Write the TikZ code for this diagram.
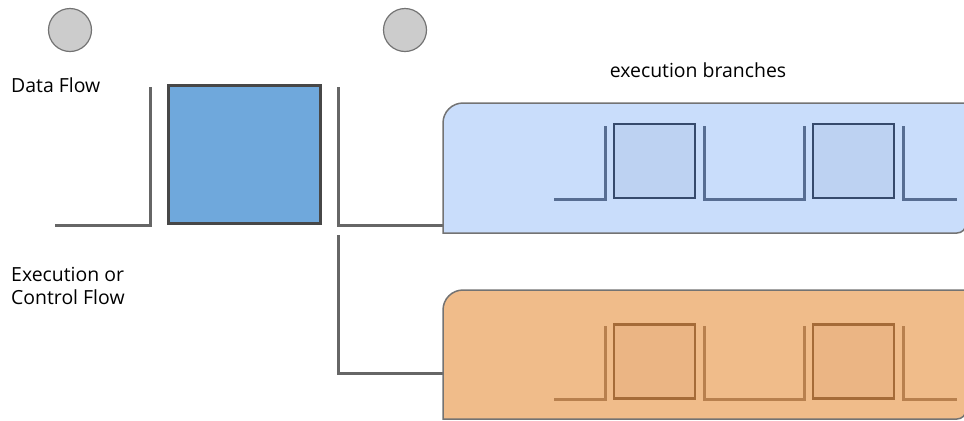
\documentclass[tikz,border=0pt]{standalone}
\usepackage{fontspec}
\setmainfont{Open Sans}
\usetikzlibrary{positioning}

\definecolor{opblue}{HTML}{6FA8DC}
\definecolor{upfill}{HTML}{C9DDFB}
\definecolor{upbox}{HTML}{BDD2F2}
\definecolor{upline}{HTML}{576D92}
\definecolor{upedge}{HTML}{364A6C}
\definecolor{lofill}{HTML}{F0BC8A}
\definecolor{lobox}{HTML}{EBB584}
\definecolor{loline}{HTML}{B8804E}
\definecolor{loedge}{HTML}{A56B38}

\begin{document}
\begin{tikzpicture} [
    x = 1bp, y = -1bp,
    lbl/.style = {font=\fontsize{19.5}{24}\selectfont, align=left, inner sep=0pt},
    token/.style = {circle, draw=black!55, fill=black!20, line width=1.2bp, minimum size=43bp, inner sep=0pt},
    flow/.style = {draw=black!60, line width=3bp},
    opbox/.style = {rectangle, draw=black!72, fill=opblue, line width=2.5bp, minimum width=152bp, minimum height=138bp, inner sep=0pt},
    branch/.style = {draw=black!55, line width=1.5bp},
    wave/.style = {line width=3bp},
    stage/.style = {rectangle, line width=2.5bp, minimum width=81bp, minimum height=74bp, inner sep=0pt}
    ]
    \useasboundingbox (0,0) rectangle (964,420);

    % tokens and labels
    \node[token] (tokA) at (70,30) {};
    \node[token] (tokB) at (405,30) {};
    \node[lbl, anchor=west] (dflow) at (11,85) {Data Flow};
    \node[lbl, anchor=west] (cflow) at (11,286) {Execution or\\Control Flow};
    \node[lbl] (exec) at (698,70) {execution branches};

    % operator
    \node[opbox] (op) at (244.5,154.5) {};
    \coordinate (upin) at (443,225);
    \coordinate (loin) at (443,373);
    \draw[flow] (55,225) -| (150,87);
    \draw[flow] (338,87) |- (upin);
    \draw[flow] (338,235) |- (loin);

    % branches
    \draw[branch, fill=upfill] (443,233) [rounded corners=20bp] -- (443,103) [sharp corners] -- (966,103)
        [rounded corners=9bp] -- (966,233) [sharp corners] -- cycle;
    \draw[branch, fill=lofill] (443,419) [rounded corners=20bp] -- (443,290) [sharp corners] -- (966,290)
        [rounded corners=9bp] -- (966,419) [sharp corners] -- cycle;

    \foreach \d/\n in {0/1, 199/2} {
        \draw[wave, upline] (554+\d,199) -| (605+\d,126);
        \draw[wave, upline] (704+\d,126) |- (758+\d,199);
        \node[stage, draw=upedge, fill=upbox] (up\n) at (654.5+\d,161) {};
        \draw[wave, loline] (554+\d,399) -| (605+\d,326);
        \draw[wave, loline] (704+\d,326) |- (758+\d,399);
        \node[stage, draw=loedge, fill=lobox] (lo\n) at (654.5+\d,361.5) {};
    }
\end{tikzpicture}
\end{document}
